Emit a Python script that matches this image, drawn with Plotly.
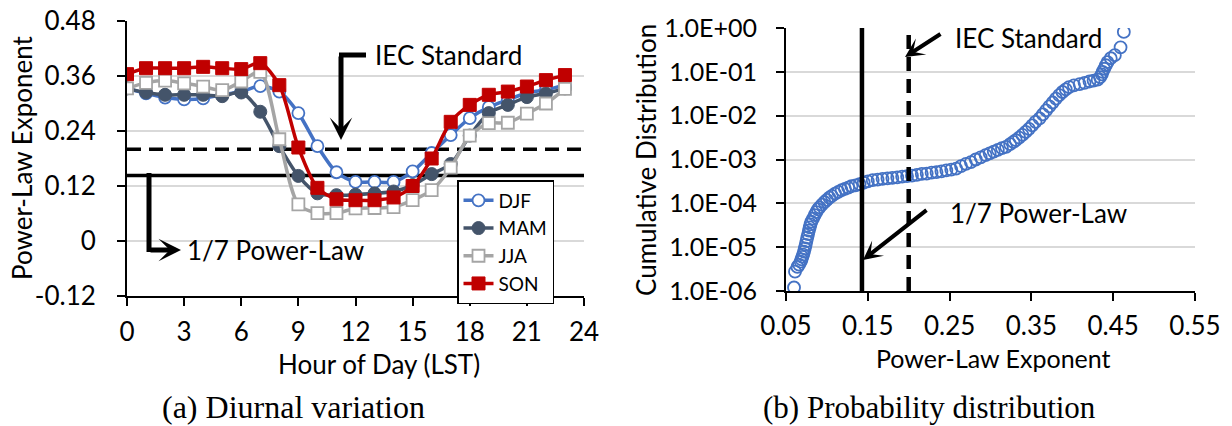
import plotly.graph_objects as go

W, H = 1232, 426

# ---------------- data: (a) diurnal variation ----------------
hours = list(range(24))
djf = [0.333, 0.322, 0.313, 0.309, 0.311, 0.319, 0.326, 0.338, 0.326, 0.279, 0.207, 0.150,
       0.129, 0.129, 0.129, 0.152, 0.192, 0.231, 0.268, 0.292, 0.308, 0.323, 0.330, 0.340]
mam = [0.333, 0.324, 0.319, 0.319, 0.319, 0.316, 0.324, 0.282, 0.207, 0.142, 0.104, 0.100,
       0.101, 0.104, 0.108, 0.122, 0.146, 0.168, 0.230, 0.279, 0.297, 0.314, 0.322, 0.333]
jja = [0.333, 0.345, 0.350, 0.344, 0.337, 0.329, 0.348, 0.369, 0.222, 0.080, 0.061, 0.061,
       0.071, 0.072, 0.074, 0.089, 0.111, 0.160, 0.230, 0.257, 0.258, 0.278, 0.300, 0.332]
son = [0.364, 0.377, 0.377, 0.377, 0.380, 0.377, 0.375, 0.388, 0.340, 0.204, 0.116, 0.091,
       0.089, 0.089, 0.095, 0.120, 0.180, 0.260, 0.297, 0.319, 0.326, 0.337, 0.351, 0.362]
iec_value = 0.2
one_seventh = 1 / 7
y_ticks_a = [-0.12, 0, 0.12, 0.24, 0.36, 0.48]
y_ticktext_a = ["-0.12", "0", "0.12", "0.24", "0.36", "0.48"]
x_ticks_a = [0, 3, 6, 9, 12, 15, 18, 21, 24]

# ---------------- data: (b) probability distribution ----------------
exponent = [0.0598, 0.061, 0.064, 0.066, 0.068, 0.069, 0.070, 0.071, 0.072, 0.073, 0.074, 0.075,
            0.076, 0.077, 0.078, 0.079, 0.080, 0.081, 0.083, 0.085, 0.087, 0.089, 0.091, 0.094,
            0.097, 0.100, 0.103, 0.106, 0.110, 0.114, 0.118, 0.122, 0.126, 0.130, 0.135, 0.140,
            0.145, 0.150, 0.156, 0.162, 0.168, 0.174, 0.180, 0.186, 0.192, 0.198, 0.204, 0.210,
            0.216, 0.222, 0.228, 0.234, 0.240, 0.246, 0.252, 0.258, 0.264, 0.270, 0.276, 0.282,
            0.288, 0.294, 0.299, 0.304, 0.309, 0.314, 0.319, 0.324, 0.328, 0.331, 0.335, 0.339,
            0.343, 0.347, 0.351, 0.355, 0.360, 0.364, 0.368, 0.372, 0.376, 0.380, 0.384, 0.388,
            0.392, 0.396, 0.402, 0.409, 0.415, 0.421, 0.426, 0.431, 0.434, 0.436, 0.437, 0.439,
            0.441, 0.443, 0.447, 0.452, 0.459, 0.463]
cdf_log10 = [-5.92, -5.56, -5.45, -5.40, -5.33, -5.28, -5.22, -5.17, -5.10, -5.03, -4.95, -4.86,
             -4.78, -4.70, -4.62, -4.55, -4.48, -4.42, -4.35, -4.27, -4.20, -4.14, -4.09, -4.03,
             -3.97, -3.92, -3.87, -3.83, -3.78, -3.74, -3.70, -3.67, -3.64, -3.61, -3.59, -3.56,
             -3.53, -3.50, -3.47, -3.46, -3.44, -3.43, -3.42, -3.41, -3.39, -3.38, -3.37, -3.35,
             -3.33, -3.32, -3.30, -3.29, -3.27, -3.25, -3.23, -3.21, -3.15, -3.10, -3.06, -3.00,
             -2.95, -2.90, -2.86, -2.82, -2.78, -2.74, -2.71, -2.65, -2.60, -2.56, -2.50, -2.44,
             -2.37, -2.30, -2.22, -2.14, -2.06, -1.97, -1.88, -1.79, -1.70, -1.61, -1.53, -1.46,
             -1.40, -1.35, -1.31, -1.28, -1.25, -1.22, -1.20, -1.18, -1.12, -1.06, -1.00, -0.93,
             -0.85, -0.78, -0.69, -0.62, -0.44, -0.09]
cdf = [10 ** v for v in cdf_log10]
y_ticks_b = [1e-6, 1e-5, 1e-4, 1e-3, 1e-2, 1e-1, 1]
y_ticktext_b = ["1.0E-06", "1.0E-05", "1.0E-04", "1.0E-03", "1.0E-02", "1.0E-01", "1.0E+00"]
x_ticks_b = [0.05, 0.15, 0.25, 0.35, 0.45, 0.55]
x_ticktext_b = ["0.05", "0.15", "0.25", "0.35", "0.45", "0.55"]

FONT = "Lato"
BLACK = "#000000"
GRID = "#D9D9D9"


def px(x):
    return x / W


def py(y):
    return 1 - y / H


fig = go.Figure()

# reference lines in panel (a) (below the data)
fig.add_trace(go.Scatter(x=[0, 24], y=[iec_value, iec_value], mode="lines",
                         line=dict(color=BLACK, width=3.5, dash="14px,8px"),
                         showlegend=False, hoverinfo="skip", xaxis="x", yaxis="y"))
fig.add_trace(go.Scatter(x=[0, 24], y=[one_seventh, one_seventh], mode="lines",
                         line=dict(color=BLACK, width=3.5),
                         showlegend=False, hoverinfo="skip", xaxis="x", yaxis="y"))

series = [
    ("DJF", djf, "#4472C4", dict(symbol="circle", size=12, color="white",
                                  line=dict(color="#4472C4", width=1.8))),
    ("MAM", mam, "#44546A", dict(symbol="circle", size=13, color="#44546A",
                                  line=dict(color="#44546A", width=1))),
    ("JJA", jja, "#A5A5A5", dict(symbol="square", size=12, color="white",
                                  line=dict(color="#A5A5A5", width=1.8))),
    ("SON", son, "#C00000", dict(symbol="square", size=13, color="#C00000",
                                  line=dict(color="#C00000", width=1))),
]
for name, vals, col, mk in series:
    fig.add_trace(go.Scatter(x=hours, y=vals, name=name, mode="lines+markers",
                             line=dict(color=col, width=3.5, shape="spline", smoothing=0.8),
                             marker=mk, xaxis="x", yaxis="y"))

# panel (b)
fig.add_trace(go.Scatter(x=exponent, y=cdf, mode="markers",
                         marker=dict(symbol="circle-open", size=12, color="#4472C4",
                                     line=dict(color="#4472C4", width=1.8)),
                         showlegend=False, xaxis="x2", yaxis="y2"))
fig.add_trace(go.Scatter(x=[one_seventh, one_seventh], y=[1e-6, 1], mode="lines",
                         line=dict(color=BLACK, width=4.5),
                         showlegend=False, hoverinfo="skip", xaxis="x2", yaxis="y2"))
fig.add_trace(go.Scatter(x=[iec_value, iec_value], y=[1e-6, 1], mode="lines",
                         line=dict(color=BLACK, width=4.5, dash="14px,8px"),
                         showlegend=False, hoverinfo="skip", xaxis="x2", yaxis="y2"))

tickfont = dict(family=FONT, size=26, color=BLACK)
axis_common = dict(showline=True, linecolor=BLACK, linewidth=2, ticks="outside",
                   ticklen=8, tickwidth=2, tickcolor=BLACK, zeroline=False,
                   automargin=False)

fig.update_layout(
    width=W, height=H, margin=dict(l=0, r=0, t=0, b=0, pad=0, autoexpand=False),
    paper_bgcolor="white", plot_bgcolor="white",
    xaxis=dict(domain=[px(127), px(584)], range=[0, 24], tickvals=x_ticks_a,
               showgrid=False, anchor="y", ticklabelstandoff=4, tickfont=tickfont,
               **axis_common),
    yaxis=dict(domain=[py(296), py(21)], range=[-0.12, 0.48], tickvals=y_ticks_a,
               ticktext=y_ticktext_a, showgrid=True, gridcolor=GRID, gridwidth=2,
               anchor="x", ticklabelstandoff=16, tickfont=tickfont, **axis_common),
    xaxis2=dict(domain=[px(786), px(1195)], range=[0.05, 0.55], tickvals=x_ticks_b,
                ticktext=x_ticktext_b, showgrid=False, anchor="y2", ticklabelstandoff=3,
                tickfont=tickfont, **axis_common),
    yaxis2=dict(domain=[py(291), py(28)], type="log", range=[-6, 0], tickvals=y_ticks_b,
                ticktext=y_ticktext_b, showgrid=True, gridcolor=GRID, gridwidth=2,
                anchor="x2", ticklabelstandoff=14,
                tickfont=dict(family=FONT, size=25, color=BLACK), **axis_common),
    legend=dict(x=px(457), y=py(180), xanchor="left", yanchor="top",
                bordercolor=BLACK, borderwidth=1.5, bgcolor="white",
                font=dict(family=FONT, size=19, color=BLACK), tracegroupgap=0),
    showlegend=True,
)

annos = []


def text(x, y, s, size=26, family=FONT, anchor="left", angle=0):
    annos.append(dict(x=px(x), y=py(y), xref="paper", yref="paper", text=s, showarrow=False,
                      xanchor=anchor, yanchor="middle", textangle=angle,
                      font=dict(family=family, size=size, color=BLACK)))


def arrow(xt, yt, xs, ys, width, size):
    annos.append(dict(x=px(xt), y=py(yt), xref="paper", yref="paper", text="",
                      showarrow=True, ax=xs - xt, ay=ys - yt, arrowhead=3,
                      arrowsize=size, arrowwidth=width, arrowcolor=BLACK))


# axis titles
text(22, 158, "Power-Law Exponent", size=26, anchor="center", angle=-90)
text(379, 364, "Hour of Day (LST)", size=26, anchor="center")
text(646, 160, "Cumulative Distribution", size=26, anchor="center", angle=-90)
text(993, 358, "Power-Law Exponent", size=25, anchor="center")
# captions
text(293, 407, "(a) Diurnal variation", size=32, family="Liberation Serif", anchor="center")
text(929, 407, "(b) Probability distribution", size=31, family="Liberation Serif", anchor="center")
# annotations in panels
text(373, 55, "IEC Standard", size=26)
text(185, 250, "1/7 Power-Law", size=26)
text(953, 38, "IEC Standard", size=26)
text(948, 213, "1/7 Power-Law", size=26)
arrow(341, 140, 341, 55, 5, 0.75)
arrow(181, 250, 149, 250, 5, 0.75)
arrow(905, 57, 942, 33, 4, 0.8)
arrow(863, 260, 928, 209, 4, 0.8)

shapes = [
    dict(type="line", xref="paper", yref="paper", x0=px(339), x1=px(366), y0=py(55), y1=py(55),
         line=dict(color=BLACK, width=5)),
    dict(type="line", xref="paper", yref="paper", x0=px(149), x1=px(149), y0=py(173), y1=py(252),
         line=dict(color=BLACK, width=5)),
]
fig.update_layout(annotations=annos, shapes=shapes)

fig.write_html("out.html")
